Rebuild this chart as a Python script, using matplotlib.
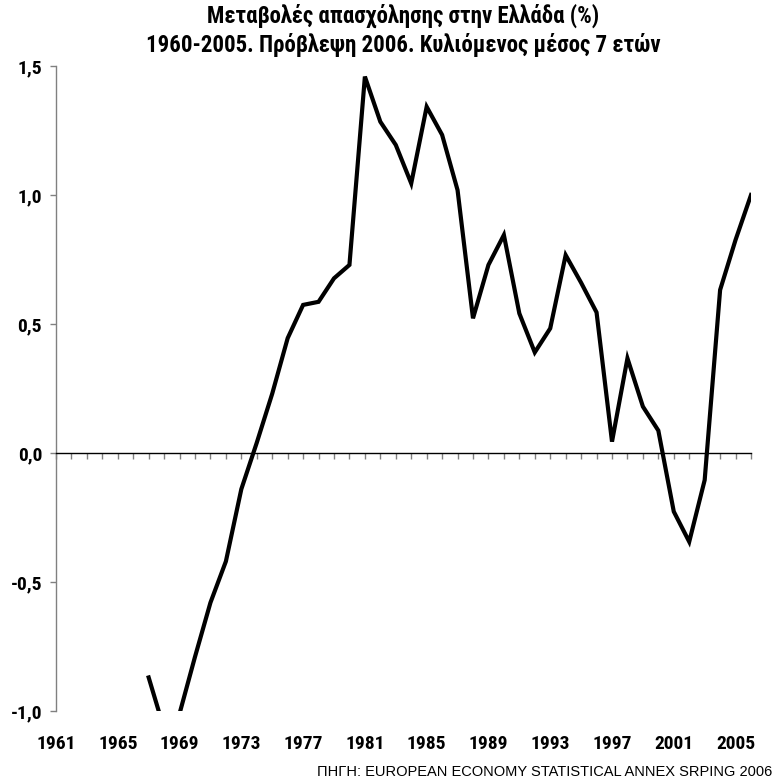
import numpy as np
import matplotlib
matplotlib.use("Agg")
import matplotlib.pyplot as plt
from matplotlib.ticker import FixedLocator, FuncFormatter
from matplotlib import font_manager as fm

plt.rcParams['font.family'] = ['Liberation Sans', 'DejaVu Sans']

years = list(range(1961, 2007))
values = [np.nan, np.nan, np.nan, np.nan, np.nan, np.nan,      # 1961-1966
          -0.87, -1.07, -1.01, -0.79, -0.58, -0.42, -0.14, 0.04,  # 1967-1974
          0.23, 0.445, 0.574, 0.586, 0.677, 0.729,               # 1975-1980
          1.459, 1.284, 1.194, 1.045, 1.342, 1.233, 1.019,       # 1981-1987
          0.522, 0.729, 0.845, 0.541, 0.39, 0.483, 0.767,        # 1988-1994
          0.66, 0.545, 0.044, 0.367, 0.18, 0.087, -0.227,        # 1995-2001
          -0.344, -0.105, 0.632, 0.826, 1.0]                     # 2002-2006
label_years = list(range(1961, 2006, 4))
y_ticks = [-1.0, -0.5, 0.0, 0.5, 1.0, 1.5]

title = "Μεταβολές απασχόλησης στην Ελλάδα (%)\n1960-2005. Πρόβλεψη 2006. Κυλιόμενος μέσος 7 ετών"
source = "ΠΗΓΗ: EUROPEAN ECONOMY STATISTICAL ANNEX SRPING 2006"


def bold_narrow(size):
    """Find a condensed bold sans font with Greek; fall back to regular families."""
    entries = fm.fontManager.ttflist
    prefs = ['Liberation Sans Narrow', 'Arial Narrow', 'Roboto Condensed',
             'Open Sans Condensed', 'Noto Sans Condensed']
    for p in prefs:
        for f in entries:
            if f.name == p and (f.weight in ('bold', 700) or 'Bold' in f.fname) \
                    and 'Italic' not in f.fname:
                return fm.FontProperties(fname=f.fname, size=size)
    for f in entries:
        if f.name in ('Noto Sans', 'Roboto', 'Open Sans') and \
                str(f.stretch) in ('condensed', 'semi-condensed') and \
                'Bold' in f.fname and 'Italic' not in f.fname and \
                'SemiBold' not in f.fname and 'ExtraBold' not in f.fname:
            return fm.FontProperties(fname=f.fname, size=size)
    return fm.FontProperties(family=['Liberation Sans', 'DejaVu Sans'],
                             weight='bold', size=size)


fig = plt.figure(figsize=(7.79, 7.80), dpi=100)
ax = fig.add_axes([56/779, 1-711/780, (751-56)/779, (711-66)/780])

ax.plot(years, values, color='black', lw=3.0, solid_joinstyle='miter', clip_on=True)

ax.set_xlim(years[0], years[-1])
ax.set_ylim(-1.0, 1.5)

# y axis
ax.yaxis.set_major_locator(FixedLocator(y_ticks))
ax.yaxis.set_major_formatter(FuncFormatter(lambda v, p: f"{v:.1f}".replace('.', ',')))
ax.tick_params(axis='y', direction='out', length=4, width=1, color='#808080', pad=6)
for lab in ax.get_yticklabels():
    lab.set_fontproperties(bold_narrow(14))

# x axis at zero with ticks at every year
ax.spines['bottom'].set_position(('data', 0))
ax.spines['bottom'].set_color('black')
ax.spines['bottom'].set_linewidth(1.0)
ax.xaxis.set_major_locator(FixedLocator(years))
ax.tick_params(axis='x', direction='out', length=4, width=1, color='#808080',
               labelbottom=False)
ax.spines['left'].set_color('#808080')
ax.spines['left'].set_linewidth(1.0)
ax.spines['top'].set_visible(False)
ax.spines['right'].set_visible(False)

sec = ax.secondary_xaxis('bottom')
sec.set_xticks(label_years)
sec.set_xticklabels([str(y) for y in label_years])
for lab in sec.get_xticklabels():
    lab.set_fontproperties(bold_narrow(14))
sec.tick_params(length=0, pad=17)
sec.spines['bottom'].set_visible(False)

ax.set_title(title, fontproperties=bold_narrow(16.5), linespacing=1.25, pad=10)

fig.text(772/779, 1-772/780, source, ha='right', va='center', fontsize=10.5,
         family=['Liberation Sans', 'DejaVu Sans'])

fig.savefig('out.png', dpi=100)
